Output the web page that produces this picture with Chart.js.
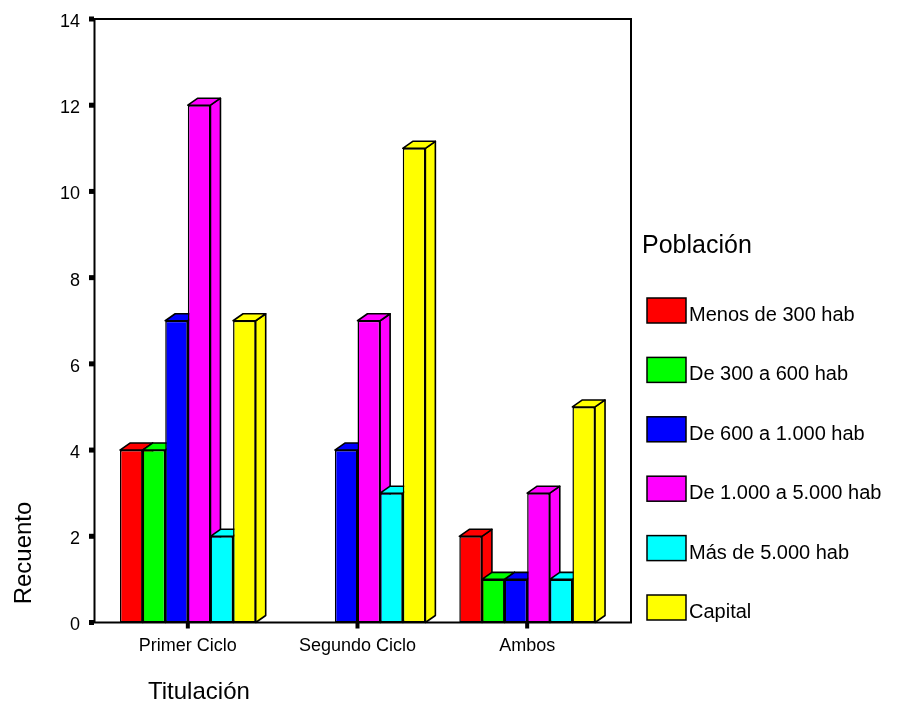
<!DOCTYPE html>
<html>
<head>
<meta charset="utf-8">
<script src="https://cdn.jsdelivr.net/npm/chart.js@4/dist/chart.umd.min.js"></script>
<style>
  body { margin: 0; background: #fff; }
</style>
</head>
<body>
<canvas id="myChart" width="897" height="724"></canvas>
<script>
const categories = ["Primer Ciclo", "Segundo Ciclo", "Ambos"];
const seriesNames = [
  "Menos de 300 hab",
  "De 300 a 600 hab",
  "De 600 a 1.000 hab",
  "De 1.000 a 5.000 hab",
  "Más de 5.000 hab",
  "Capital",
];
const menos300 = [4, 0, 2];
const de300a600 = [4, 0, 1];
const de600a1000 = [7, 4, 1];
const de1000a5000 = [12, 7, 3];
const mas5000 = [2, 3, 1];
const capital = [7, 11, 5];
const seriesColors = ["#ff0000", "#00ff00", "#0000ff", "#ff00ff", "#00ffff", "#ffff00"];
const yMin = 0;
const yMax = 14;
const yStep = 2;

const seriesValues = [menos300, de300a600, de600a1000, de1000a5000, mas5000, capital];

// 3d offsets of the bars
const DX = 10;
const DY = 7;

// frame of the plot (the back wall is a bit wider than the category range)
const frameLeft = 94.5;
const frameRight = 631;

const spssPlugin = {
  id: "spss",
  beforeDatasetsDraw(chart) {
    const ctx = chart.ctx;
    const area = chart.chartArea;
    const yScale = chart.scales.y;
    const xScale = chart.scales.x;
    ctx.save();
    ctx.strokeStyle = "#000";
    ctx.lineWidth = 2;
    ctx.beginPath();
    ctx.moveTo(frameLeft, area.bottom);
    ctx.lineTo(frameLeft, area.top);
    ctx.lineTo(frameRight, area.top);
    ctx.lineTo(frameRight, area.bottom);
    ctx.closePath();
    ctx.stroke();

    ctx.fillStyle = "#000";
    yScale.ticks.forEach(function (t) {
      let py = yScale.getPixelForValue(t.value);
      ctx.fillRect(frameLeft - 5.5, py - 2.5, 5, 5);
    });
    categories.forEach(function (c, i) {
      let px = xScale.getPixelForValue(i);
      ctx.fillRect(px - 2, area.bottom, 4, 6);
    });

    // side and top faces, left to right inside every category
    ctx.lineWidth = 1.6;
    ctx.lineJoin = "round";
    for (let j = 0; j < categories.length; j++) {
      for (let i = 0; i < chart.data.datasets.length; i++) {
        let meta = chart.getDatasetMeta(i);
        let bar = meta.data[j];
        if (!bar || chart.data.datasets[i].data[j] === 0) continue;
        let p = bar.getProps(["x", "y", "base", "width"], true);
        let l = p.x - p.width / 2;
        let r = p.x + p.width / 2;
        ctx.fillStyle = seriesColors[i];
        // side
        ctx.beginPath();
        ctx.moveTo(r, p.base);
        ctx.lineTo(r + DX, p.base - DY);
        ctx.lineTo(r + DX, p.y - DY);
        ctx.lineTo(r, p.y);
        ctx.closePath();
        ctx.fill();
        ctx.stroke();
        // top
        ctx.beginPath();
        ctx.moveTo(l, p.y);
        ctx.lineTo(l + DX, p.y - DY);
        ctx.lineTo(r + DX, p.y - DY);
        ctx.lineTo(r, p.y);
        ctx.closePath();
        ctx.fill();
        ctx.stroke();
      }
    }
    ctx.restore();
  },
  afterDraw(chart) {
    const ctx = chart.ctx;
    ctx.save();
    ctx.fillStyle = "#000";
    ctx.textBaseline = "alphabetic";
    ctx.textAlign = "left";

    // legend
    ctx.font = "25px 'Liberation Sans', Arial, sans-serif";
    ctx.fillText("Población", 642, 253);
    ctx.font = "20px 'Liberation Sans', Arial, sans-serif";
    chart.data.datasets.forEach(function (ds, i) {
      let top = 298 + i * 59.4;
      ctx.fillStyle = ds.backgroundColor;
      ctx.fillRect(647, top, 39, 25);
      ctx.strokeStyle = "#000";
      ctx.lineWidth = 1.5;
      ctx.strokeRect(647, top, 39, 25);
      ctx.fillStyle = "#000";
      ctx.fillText(ds.label, 689, top + 23);
    });

    // axis titles
    ctx.font = "24px 'Liberation Sans', Arial, sans-serif";
    ctx.fillText("Titulación", 148, 699);
    ctx.translate(31, 553);
    ctx.rotate(-Math.PI / 2);
    ctx.textAlign = "center";
    ctx.fillText("Recuento", 0, 0);
    ctx.restore();
  },
};

Chart.defaults.font.family = "'Liberation Sans', Arial, sans-serif";
Chart.defaults.color = "#000";

const ctx = document.getElementById("myChart").getContext("2d");
const chart = new Chart(ctx, {
  type: "bar",
  data: {
    labels: categories,
    datasets: seriesNames.map(function (name, i) {
      return {
        label: name,
        data: seriesValues[i],
        backgroundColor: seriesColors[i],
        borderColor: "#000",
        borderWidth: 1.5,
        borderSkipped: false,
        barPercentage: 1,
        categoryPercentage: 0.8,
      };
    }),
  },
  options: {
    responsive: false,
    animation: false,
    layout: { padding: { top: 19, right: 285, left: 0, bottom: 0 } },
    plugins: {
      legend: { display: false },
      tooltip: { enabled: false },
    },
    scales: {
      x: {
        grid: { display: false, drawTicks: false },
        border: { display: false },
        ticks: { font: { size: 18 }, padding: 13, color: "#000" },
        afterFit(scale) {
          scale.height = 101.5;
          scale.paddingLeft = 0;
          scale.paddingRight = 0;
        },
      },
      y: {
        min: yMin,
        max: yMax,
        grid: { display: false, drawTicks: false },
        border: { display: false },
        ticks: { stepSize: yStep, font: { size: 18 }, padding: 23, labelOffset: 3, color: "#000" },
        afterFit(scale) {
          scale.width = 103;
          scale.paddingTop = 0;
          scale.paddingBottom = 0;
        },
      },
    },
  },
  plugins: [spssPlugin],
});
</script>
</body>
</html>
